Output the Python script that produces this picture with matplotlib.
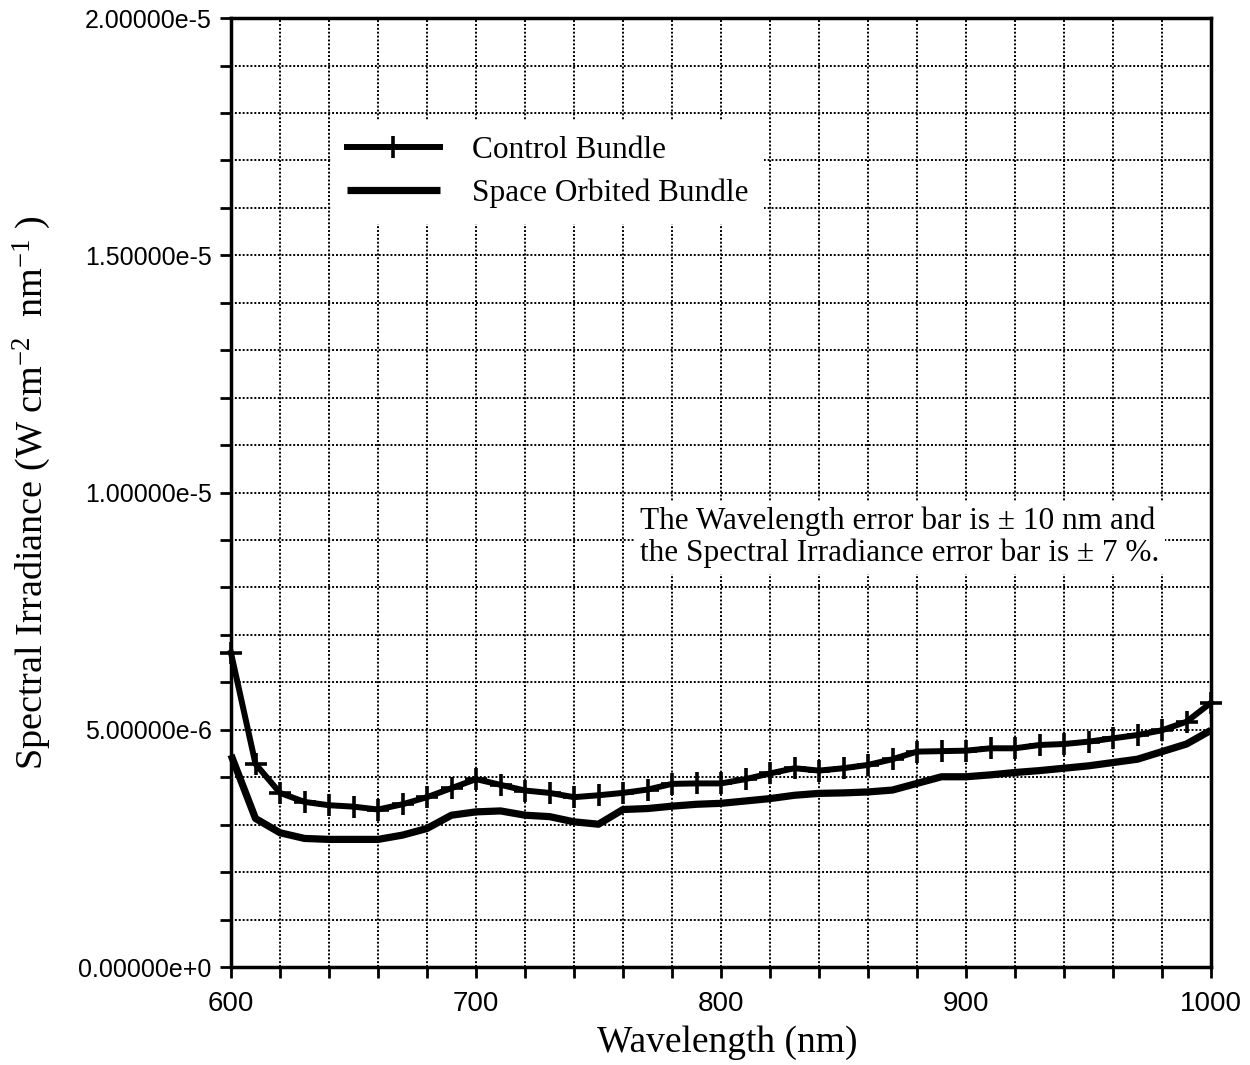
import matplotlib
matplotlib.use("Agg")
import matplotlib.pyplot as plt
from matplotlib.ticker import MultipleLocator, FuncFormatter

# wavelength (nm), readings every 10 nm
wavelength = list(range(600, 1001, 10))

# control bundle, spectral irradiance in units of 1e-6 W cm-2 nm-1
control = [6.62, 4.28, 3.67, 3.48, 3.41, 3.38, 3.32, 3.43, 3.58, 3.77,
           3.96, 3.84, 3.72, 3.67, 3.58, 3.62, 3.67, 3.74, 3.86, 3.87,
           3.87, 3.96, 4.08, 4.19, 4.14, 4.19, 4.26, 4.38, 4.54, 4.55,
           4.56, 4.61, 4.61, 4.68, 4.70, 4.75, 4.82, 4.89, 4.99, 5.17,
           5.57]

# space orbited bundle, same units
space = [4.47, 3.13, 2.83, 2.71, 2.69, 2.69, 2.69, 2.78, 2.92, 3.20,
         3.27, 3.29, 3.20, 3.17, 3.06, 3.01, 3.32, 3.34, 3.39, 3.43,
         3.45, 3.50, 3.55, 3.62, 3.66, 3.67, 3.69, 3.73, 3.87, 4.01,
         4.01, 4.05, 4.10, 4.14, 4.19, 4.24, 4.31, 4.38, 4.54, 4.70,
         4.99]

control = [v * 1e-6 for v in control]
space = [v * 1e-6 for v in space]

serif = ["Liberation Serif", "DejaVu Serif"]
sans = ["Liberation Sans", "DejaVu Sans"]

# superscripts in the y label should be in the same serif face
plt.rcParams["mathtext.fontset"] = "custom"
plt.rcParams["mathtext.rm"] = "Liberation Serif"
plt.rcParams["mathtext.it"] = "Liberation Serif:italic"
plt.rcParams["mathtext.bf"] = "Liberation Serif:bold"


def sci_fmt(v, pos):
    # 5.00000e-6 style labels, like the original plotting package
    if v == 0:
        return "0.00000e+0"
    s = "%.5e" % v
    mant, exp = s.split("e")
    return "%se%+d" % (mant, int(exp))


fig = plt.figure(figsize=(12.5, 10.65), dpi=100)
ax = fig.add_axes([0.1848, 0.092, 0.784, 0.891])

ax.plot(wavelength, control, color="black", lw=4.3, marker="+",
        markersize=16, markeredgewidth=2.6, clip_on=False, zorder=4,
        label="Control Bundle")
ax.plot(wavelength, space, color="black", lw=5.2, clip_on=False,
        zorder=4, solid_capstyle="butt", label="Space Orbited Bundle")

ax.set_xlim(600, 1000)
ax.set_ylim(0, 2e-5)

ax.xaxis.set_major_locator(MultipleLocator(100))
ax.xaxis.set_minor_locator(MultipleLocator(20))
ax.yaxis.set_major_locator(MultipleLocator(5e-6))
ax.yaxis.set_minor_locator(MultipleLocator(1e-6))
ax.yaxis.set_major_formatter(FuncFormatter(sci_fmt))

ax.grid(which="both", color="black", lw=1.4, linestyle=(0, (1, 1)))
ax.set_axisbelow(True)

for sp in ax.spines.values():
    sp.set_linewidth(2.5)

ax.tick_params(which="both", direction="out", width=2, length=8,
               color="black")
ax.tick_params(axis="x", which="major", pad=9)
ax.tick_params(axis="y", which="major", pad=6)
for lab in ax.get_xticklabels():
    lab.set_family(sans)
    lab.set_fontsize(20)
for lab in ax.get_yticklabels():
    lab.set_family(sans)
    lab.set_fontsize(18)

ax.set_xlabel("Wavelength (nm)", family=serif, fontsize=27)
ax.set_ylabel("Spectral Irradiance (W cm$^{-2}$  nm$^{-1}$ )",
              family=serif, fontsize=27.5)
ax.xaxis.set_label_coords(0.506, -0.062)
ax.yaxis.set_label_coords(-0.182, 0.5)

leg = ax.legend(loc="upper left", bbox_to_anchor=(0.102, 0.8925),
                borderaxespad=0, frameon=True, fancybox=False,
                prop={"family": serif, "size": 22.5}, handlelength=3.0,
                handletextpad=1.0, labelspacing=0.45, borderpad=0.5,
                numpoints=1)
leg.get_frame().set_facecolor("white")
leg.get_frame().set_edgecolor("none")
leg.get_frame().set_alpha(1)
leg.set_zorder(5)

ax.text(767, 9.05e-6,
        "The Wavelength error bar is \u00b1 10 nm and\n"
        "the Spectral Irradiance error bar is \u00b1 7 %.",
        family=serif, fontsize=22.5, va="center", ha="left",
        linespacing=1.12, zorder=5,
        bbox=dict(facecolor="white", edgecolor="none", pad=4))

fig.savefig("out.png", dpi=100)
